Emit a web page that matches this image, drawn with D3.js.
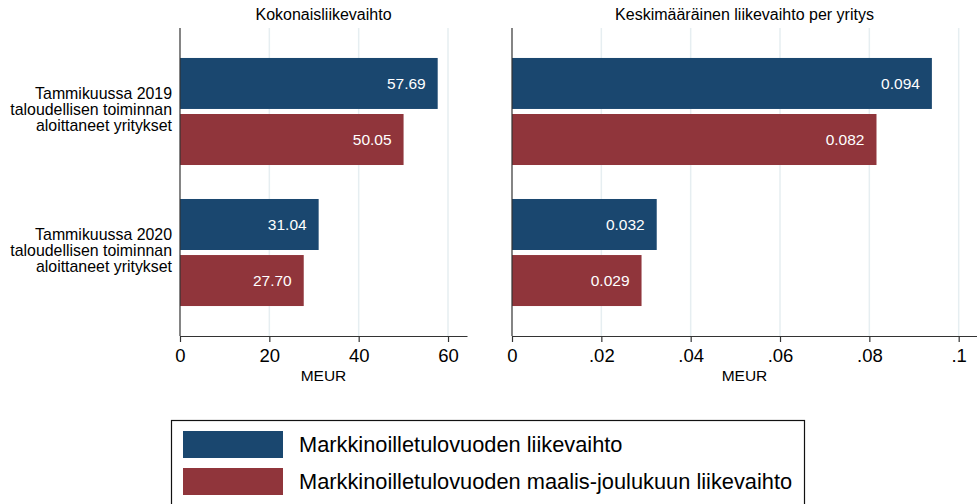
<!DOCTYPE html>
<html>
<head>
<meta charset="utf-8">
<script src="https://cdn.jsdelivr.net/npm/d3@7"></script>
<style>
  body { margin: 0; background: #fff; }
  svg { font-family: "Liberation Sans", Arial, sans-serif; display: block; }
</style>
</head>
<body>
<div id="view"></div>
<script>
// categories (each split into display lines) and series
var categories = ["2019", "2020"];
var categoryLines = [
    ["Tammikuussa 2019", "taloudellisen toiminnan", "aloittaneet yritykset"],
    ["Tammikuussa 2020", "taloudellisen toiminnan", "aloittaneet yritykset"],
];
var series = [
    "Markkinoilletulovuoden liikevaihto",
    "Markkinoilletulovuoden maalis-joulukuun liikevaihto",
];
var colors = ["#1a476f", "#90353b"];

// values per category: [series0, series1]
var totalValues = [[57.69, 50.05], [31.04, 27.70]];
var avgValues = [[0.094, 0.0816], [0.0324, 0.0290]];

var panelTitles = ["Kokonaisliikevaihto", "Keskimääräinen liikevaihto per yritys"];
var totalTicks = [0, 20, 40, 60];
var avgTicks = [0, 0.02, 0.04, 0.06, 0.08, 0.1];
var axisTitle = "MEUR";

var W = 977, H = 504;
var plotTop = 28, plotBottom = 336;

var svg = d3.select("#view").append("svg")
    .attr("width", W)
    .attr("height", H);

var y = d3.scaleBand()
    .domain(categories)
    .range([plotTop, plotBottom])
    .paddingInner(0.241)
    .paddingOuter(0.2125);

var ySeries = d3.scaleBand()
    .domain(d3.range(series.length))
    .range([0, y.bandwidth()])
    .paddingInner(0.09);

var panels = [
    {
        title: panelTitles[0],
        values: totalValues,
        ticks: totalTicks,
        range: [180, 467],
        max: 64.25,
        tickFmt: d3.format("d"),
        labelFmt: d3.format(".2f"),
    },
    {
        title: panelTitles[1],
        values: avgValues,
        ticks: avgTicks,
        range: [512, 977],
        max: 0.1041,
        tickFmt: d => d === 0 ? "0" : d3.format(".2~f")(d).replace(/^0/, ""),
        labelFmt: d3.format(".3f"),
    },
];

panels.forEach(function(p) {
    var x = d3.scaleLinear().domain([0, p.max]).range(p.range);
    var g = svg.append("g");

    // grid
    g.selectAll(".grid")
        .data(p.ticks.filter(t => t > 0))
        .enter().append("line")
        .attr("x1", d => x(d)).attr("x2", d => x(d))
        .attr("y1", plotTop).attr("y2", plotBottom)
        .attr("stroke", "#e6eef1")
        .attr("stroke-width", 1.5);

    // bars
    var rows = g.selectAll(".row")
        .data(p.values)
        .enter().append("g")
        .attr("transform", (d, i) => `translate(0, ${y(categories[i])})`);

    rows.selectAll("rect")
        .data(d => d)
        .enter().append("rect")
        .attr("x", x(0))
        .attr("y", (d, j) => ySeries(j))
        .attr("width", d => x(d) - x(0))
        .attr("height", ySeries.bandwidth())
        .attr("fill", (d, j) => colors[j]);

    rows.selectAll("text")
        .data(d => d)
        .enter().append("text")
        .attr("x", d => x(d) - 12)
        .attr("y", (d, j) => ySeries(j) + ySeries.bandwidth() / 2)
        .attr("dy", "0.36em")
        .attr("text-anchor", "end")
        .attr("fill", "#fff")
        .attr("font-size", 15.5)
        .text(d => p.labelFmt(d));

    // y axis line
    g.append("line")
        .attr("x1", x(0)).attr("x2", x(0))
        .attr("y1", plotTop).attr("y2", plotBottom)
        .attr("stroke", "#333")
        .attr("stroke-width", 1.2);

    // x axis
    var axis = g.append("g")
        .attr("transform", `translate(0, ${plotBottom})`)
        .call(d3.axisBottom(x)
            .tickValues(p.ticks)
            .tickFormat(p.tickFmt)
            .tickSize(6)
            .tickSizeOuter(0)
            .tickPadding(7));
    axis.select(".domain").attr("stroke", "#333").attr("stroke-width", 1.2);
    axis.selectAll(".tick line").attr("stroke", "#333").attr("stroke-width", 1.2);
    axis.selectAll(".tick text")
        .attr("font-size", 18.5)
        .attr("font-family", "Liberation Sans, Arial, sans-serif")
        .attr("fill", "#000");

    var cx = (p.range[0] + p.range[1]) / 2;
    g.append("text")
        .attr("x", cx).attr("y", 381)
        .attr("text-anchor", "middle")
        .attr("font-size", 15.5)
        .text(axisTitle);

    g.append("text")
        .attr("x", cx).attr("y", 20)
        .attr("text-anchor", "middle")
        .attr("font-size", 16)
        .text(p.title);
});

// category labels
var cats = svg.selectAll(".cat")
    .data(categoryLines)
    .enter().append("text")
    .attr("text-anchor", "end")
    .attr("font-size", 15.9)
    .attr("fill", "#000");
cats.each(function(lines, i) {
    var c = y(categories[i]) + y.bandwidth() / 2;
    d3.select(this).selectAll("tspan")
        .data(lines)
        .enter().append("tspan")
        .attr("x", 172)
        .attr("y", (d, k) => c - 12.5 + k * 16)
        .text(d => d);
});

// legend
var legend = svg.append("g");
legend.append("rect")
    .attr("x", 171.5).attr("y", 420.5)
    .attr("width", 633).attr("height", 90)
    .attr("fill", "none")
    .attr("stroke", "#111")
    .attr("stroke-width", 1.2);
var items = legend.selectAll(".item")
    .data(series)
    .enter().append("g")
    .attr("transform", (d, i) => `translate(183, ${431 + i * 37})`);
items.append("rect")
    .attr("width", 100).attr("height", 27)
    .attr("fill", (d, i) => colors[i]);
items.append("text")
    .attr("x", 116).attr("y", 13.5)
    .attr("dy", "0.36em")
    .attr("font-size", 21.8)
    .text(d => d);
</script>
</body>
</html>
